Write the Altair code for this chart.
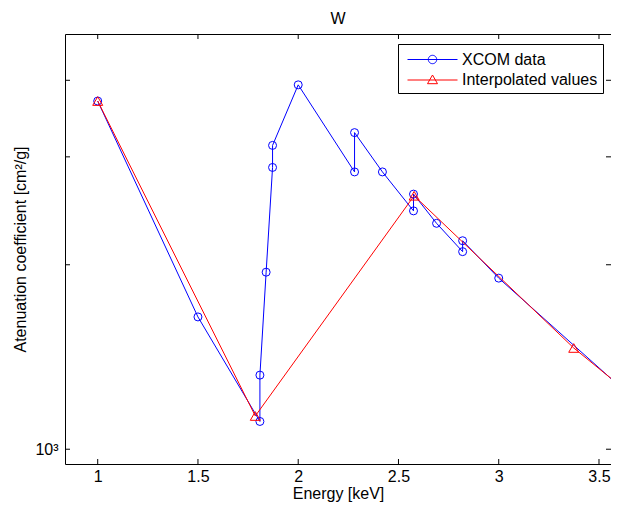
import altair as alt
import pandas as pd
import numpy as np

# ---- data ----
xcom_energy = [1.0, 1.5, 1.809, 1.809, 1.84, 1.872, 1.872, 2.0, 2.281, 2.281,
               2.42, 2.575, 2.575, 2.69, 2.82, 2.82, 3.0, 4.0]
xcom_mu = [3700, 1644, 1110, 1321, 1945, 2883, 3132, 3932, 2835, 3286,
           2835, 2449, 2608, 2337, 2101, 2189, 1902, 969]
interp_energy = [1.0, 1.786, 2.578, 3.374, 4.16]
interp_mu = [3700, 1133, 2592, 1463, 902]
series_names = ["XCOM data", "Interpolated values"]
series_colors = ["#0000ff", "#ff0000"]
x_ticks = [1, 1.5, 2, 2.5, 3, 3.5]
y_ticks = [1000, 2000, 3000, 4000]

FONT = "Liberation Sans"
FS = 16
W, H = 546, 430

xcom = pd.DataFrame({"E": xcom_energy, "mu": xcom_mu, "i": range(len(xcom_energy))})
interp = pd.DataFrame({"E": interp_energy, "mu": interp_mu, "i": range(len(interp_energy))})
xt = pd.DataFrame({"E": x_ticks})
yt = pd.DataFrame({"mu": y_ticks})
leg = pd.DataFrame({"series": series_names})

xscale = alt.Scale(domain=[0.8369, 3.5599], nice=False, zero=False)
yscale = alt.Scale(type="log", domain=[946, 4760], nice=False)

xaxis = alt.Axis(values=x_ticks, format="~g", title="Energy [keV]", grid=False,
                 domain=False, ticks=False, labelFont=FONT, labelFontSize=FS,
                 labelColor="black", labelPadding=17, labelBaseline="alphabetic",
                 labelFlush=False, titleFont=FONT, titleFontSize=FS,
                 titleFontWeight="normal", titleColor="black", titleY=34,
                 titleBaseline="alphabetic")
yaxis = alt.Axis(values=[1000], labelExpr="'10³'", title="Atenuation coefficient [cm²/g]",
                 grid=False, domain=False, ticks=False, labelFont=FONT,
                 labelFontSize=FS, labelColor="black", labelPadding=7,
                 titleFont=FONT, titleFontSize=FS, titleFontWeight="normal",
                 titleColor="black", titleX=-40, titleY=H / 2, titleAlign="center",
                 titleBaseline="alphabetic", titleAngle=270)

# legend symbol paths (line + marker), unit = sqrt(size)/2
ang = np.linspace(0, 2 * np.pi, 25)[:-1]
circ = "M" + "L".join(f"{0.42*np.cos(a):.3f},{0.42*np.sin(a):.3f}" for a in ang) + "Z"
circle_path = "M-2.5,0L2.5,0" + circ
tri_path = "M-2.5,0L2.5,0M0,-0.5L0.5,0.37L-0.5,0.37Z"

blue_line = alt.Chart(xcom).mark_line(color="#0000ff", strokeWidth=1, clip=True).encode(
    x=alt.X("E:Q", scale=xscale, axis=xaxis),
    y=alt.Y("mu:Q", scale=yscale, axis=yaxis),
    order=alt.Order("i:Q"))
blue_pts = alt.Chart(xcom).mark_point(shape="circle", size=64, filled=False, color="#0000ff",
                                      strokeWidth=1, clip=True, opacity=1).encode(
    x=alt.X("E:Q", scale=xscale), y=alt.Y("mu:Q", scale=yscale))
red_line = alt.Chart(interp).mark_line(color="#ff0000", strokeWidth=1, clip=True).encode(
    x=alt.X("E:Q", scale=xscale), y=alt.Y("mu:Q", scale=yscale),
    order=alt.Order("i:Q"))
red_pts = alt.Chart(interp).mark_point(shape="triangle-up", size=100, filled=False,
                                       color="#ff0000", strokeWidth=1, clip=True,
                                       opacity=1).encode(
    x=alt.X("E:Q", scale=xscale), y=alt.Y("mu:Q", scale=yscale))

tb = alt.Chart(xt).mark_rule(color="black", strokeWidth=1).encode(
    x=alt.X("E:Q", scale=xscale), y=alt.value(H), y2=alt.value(H - 5))
tt = alt.Chart(xt).mark_rule(color="black", strokeWidth=1).encode(
    x=alt.X("E:Q", scale=xscale), y=alt.value(0), y2=alt.value(5))
tl = alt.Chart(yt).mark_rule(color="black", strokeWidth=1).encode(
    y=alt.Y("mu:Q", scale=yscale), x=alt.value(0), x2=alt.value(5))
tr = alt.Chart(yt).mark_rule(color="black", strokeWidth=1).encode(
    y=alt.Y("mu:Q", scale=yscale), x=alt.value(W), x2=alt.value(W - 5))

legend = alt.Legend(orient="none", legendX=333, legendY=10, title=None, padding=5,
                    strokeColor="black", fillColor="white", cornerRadius=0,
                    symbolSize=400, symbolStrokeWidth=1, symbolOffset=19, labelOffset=19,
                    rowPadding=1.5, labelFont=FONT, labelFontSize=FS, labelColor="black",
                    symbolOpacity=1)
leg_layer = alt.Chart(leg).transform_filter("false").mark_point(filled=False, size=400).encode(
    color=alt.Color("series:N", scale=alt.Scale(domain=series_names, range=series_colors),
                    legend=legend),
    shape=alt.Shape("series:N", scale=alt.Scale(domain=series_names,
                                                range=[circle_path, tri_path]),
                    legend=legend))

chart = alt.layer(blue_line, blue_pts, red_line, red_pts, tb, tt, tl, tr, leg_layer).properties(
    width=W, height=H,
    title=alt.TitleParams("W", font=FONT, fontSize=FS, fontWeight="normal", color="black",
                          offset=7, anchor="middle"),
    autosize=alt.AutoSizeParams(type="none"),
    padding={"left": 57, "top": 26, "right": 0, "bottom": 38},
).configure_view(stroke="black", strokeWidth=1)

chart.save("out.html", embed_options={"renderer": "svg", "actions": False})
